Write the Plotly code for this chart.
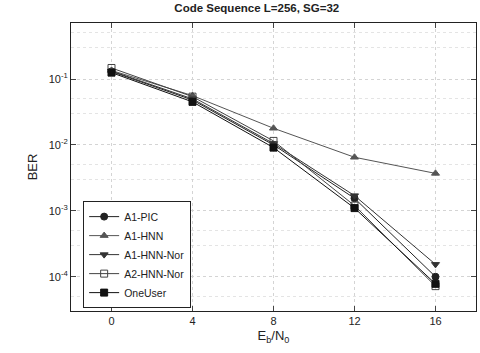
import plotly.graph_objects as go

ebn0 = [0, 4, 8, 12, 16]
a1_pic = [0.130, 0.048, 0.0100, 0.00155, 0.000100]
a1_hnn = [0.135, 0.056, 0.0179, 0.0065, 0.0037]
a1_hnn_nor = [0.132, 0.050, 0.0105, 0.0017, 0.000154]
a2_hnn_nor = [0.147, 0.054, 0.0115, 0.00120, 0.000072]
one_user = [0.125, 0.045, 0.0091, 0.00110, 0.000078]

names = ["A1-PIC", "A1-HNN", "A1-HNN-Nor", "A2-HNN-Nor", "OneUser"]
series = [a1_pic, a1_hnn, a1_hnn_nor, a2_hnn_nor, one_user]
symbols = ["circle", "triangle-up", "triangle-down", "square-open", "square"]
colors = ["#222222", "#555555", "#333333", "#444444", "#111111"]

ytick_vals = [1e-4, 1e-3, 1e-2, 1e-1]
ytick_text = ["10<sup>-4</sup>", "10<sup>-3</sup>", "10<sup>-2</sup>", "10<sup>-1</sup>"]
xtick_vals = [0, 4, 8, 12, 16]

fig = go.Figure()
for n, s, sym, c in zip(names, series, symbols, colors):
    fig.add_trace(go.Scatter(
        x=ebn0, y=s, name=n, mode="lines+markers",
        line=dict(color=c, width=1),
        marker=dict(symbol=sym, size=7, color=c, line=dict(color=c, width=1)),
    ))

fig.update_layout(
    width=480, height=353,
    margin=dict(l=71, r=4, t=23, b=42),
    paper_bgcolor="white", plot_bgcolor="white",
    font=dict(family="Liberation Sans, Arial, sans-serif", color="#222222", size=11),
    title=dict(text="<b>Code Sequence L=256, SG=32</b>", x=0.535, xanchor="center",
               y=0.99, yanchor="top", font=dict(size=11.5)),
    showlegend=True,
    legend=dict(x=0.03, y=0.01, xanchor="left", yanchor="bottom",
                bordercolor="#222222", borderwidth=1, bgcolor="white",
                font=dict(size=10.5), tracegroupgap=0, itemwidth=30),
    xaxis=dict(range=[-2, 18], tickvals=xtick_vals, ticks="inside", ticklen=5,
               showline=True, linecolor="#222222", linewidth=1, mirror="ticks",
               showgrid=True, gridcolor="#d4d4d4", griddash="dot", gridwidth=1,
               zeroline=False, automargin=False, tickfont=dict(size=11),
               title=dict(text="E<sub>b</sub>/N<sub>0</sub>", font=dict(size=13), standoff=4)),
    yaxis=dict(type="log", range=[-4.52, -0.15], tickvals=ytick_vals, ticktext=ytick_text,
               ticks="inside", ticklen=5, automargin=False, tickfont=dict(size=11),
               showline=True, linecolor="#222222", linewidth=1, mirror="ticks",
               showgrid=True, gridcolor="#d4d4d4", griddash="dot", gridwidth=1,
               minor=dict(tickvals=[3e-5, 5e-5, 3e-4, 5e-4, 3e-3, 5e-3, 3e-2, 5e-2, 3e-1, 5e-1],
                          showgrid=True, gridcolor="#e4e4e4", griddash="dot", ticks=""),
               zeroline=False,
               title=dict(text="BER", font=dict(size=13), standoff=8)),
)

fig.write_html("out.html", config={"displayModeBar": False},
               post_script="document.body.style.margin='0';")
